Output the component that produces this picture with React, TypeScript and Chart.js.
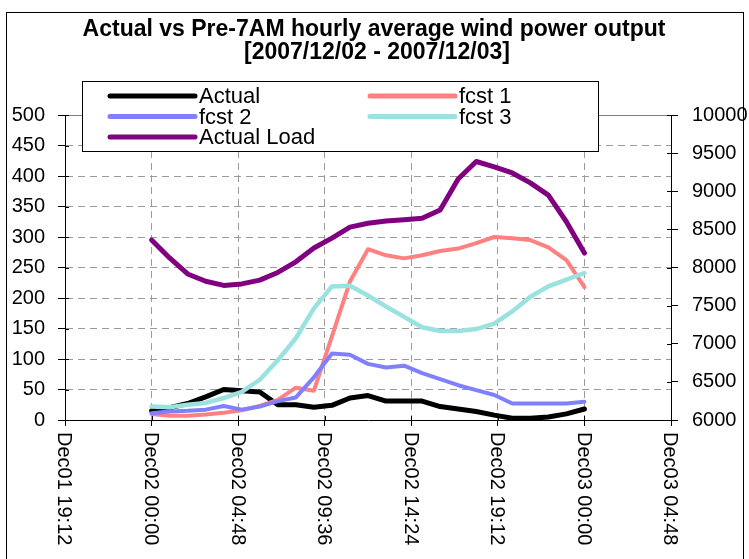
import React, { useEffect, useRef } from "react";
import { Chart, registerables } from "chart.js";

Chart.register(...registerables);

// ---- DATA ----
const hours = [0, 1, 2, 3, 4, 5, 6, 7, 8, 9, 10, 11, 12, 13, 14, 15, 16, 17, 18, 19, 20, 21, 22, 23, 24];
const actual = [15, 20, 27, 38, 50, 48, 46, 25, 25, 21, 24, 36, 40, 31, 31, 31, 22, 18, 14, 8, 3, 3, 5, 10, 18];
const fcst1 = [10, 7, 7, 9, 12, 16, 23, 33, 53, 48, 137, 227, 280, 270, 265, 270, 277, 281, 290, 300, 298, 295, 283, 262, 218];
const fcst2 = [11, 14, 15, 17, 23, 17, 22, 31, 37, 70, 109, 107, 92, 86, 89, 77, 67, 57, 49, 41, 27, 27, 27, 27, 30];
const fcst3 = [22, 21, 25, 28, 36, 46, 66, 98, 134, 183, 219, 220, 204, 186, 169, 152, 146, 146, 149, 158, 178, 202, 219, 230, 241];
const actualLoad = [8360, 8125, 7915, 7820, 7765, 7785, 7835, 7935, 8075, 8255, 8385, 8530, 8580, 8610, 8625, 8645, 8755, 9160, 9390, 9320, 9240, 9110, 8950, 8600, 8190];

const xTickValues = [-4.8, 0, 4.8, 9.6, 14.4, 19.2, 24, 28.8];
const xTickLabels = ["Dec01 19:12", "Dec02 00:00", "Dec02 04:48", "Dec02 09:36", "Dec02 14:24", "Dec02 19:12", "Dec03 00:00", "Dec03 04:48"];

const titleLines = ["Actual vs Pre-7AM hourly average wind power output", "[2007/12/02 - 2007/12/03]"];

const FONT = '"Liberation Sans", Arial, sans-serif';

const toXY = (vals: number[]) => vals.map((v, i) => ({ x: hours[i], y: v }));

export default function App() {
  const ref = useRef<HTMLCanvasElement | null>(null);

  useEffect(() => {
    if (!ref.current) return;

    const decor = {
      id: "decor",
      beforeDatasetsDraw(chart: any) {
        const { ctx, chartArea } = chart;
        const { left, right, top, bottom } = chartArea;
        ctx.save();
        ctx.strokeStyle = "#808080";
        ctx.lineWidth = 1;
        ctx.beginPath();
        ctx.moveTo(left, Math.round(top) + 0.5);
        ctx.lineTo(right, Math.round(top) + 0.5);
        ctx.stroke();
        ctx.strokeStyle = "#000";
        const ys = chart.scales.y;
        const y1 = chart.scales.y1;
        const xs = chart.scales.x;
        ctx.beginPath();
        ys.ticks.forEach((t: any) => {
          const py = Math.round(ys.getPixelForValue(t.value)) + 0.5;
          ctx.moveTo(left, py);
          ctx.lineTo(left + 4, py);
        });
        y1.ticks.forEach((t: any) => {
          const py = Math.round(y1.getPixelForValue(t.value)) + 0.5;
          ctx.moveTo(right - 4, py);
          ctx.lineTo(right, py);
        });
        xs.ticks.forEach((t: any) => {
          const px = Math.round(xs.getPixelForValue(t.value)) + 0.5;
          ctx.moveTo(px, bottom - 4);
          ctx.lineTo(px, bottom);
        });
        ctx.stroke();
        ctx.restore();
      },
      afterDraw(chart: any) {
        const { ctx, chartArea } = chart;
        ctx.save();
        ctx.strokeStyle = "#000";
        ctx.lineWidth = 1;
        ctx.strokeRect(6.5, 12.5, 737, 600);

        // title
        ctx.fillStyle = "#000";
        ctx.font = `bold 23px ${FONT}`;
        ctx.textAlign = "center";
        ctx.textBaseline = "middle";
        ctx.fillText(titleLines[0], 374, 30);
        ctx.fillText(titleLines[1], 377, 53);

        // x tick labels rotated clockwise
        const xs = chart.scales.x;
        ctx.font = `20px ${FONT}`;
        ctx.textAlign = "left";
        ctx.textBaseline = "middle";
        xs.ticks.forEach((t: any, i: number) => {
          const px = xs.getPixelForValue(t.value);
          ctx.save();
          ctx.translate(px - 1, chartArea.bottom + 12);
          ctx.rotate(Math.PI / 2);
          ctx.fillText(xTickLabels[i], 0, 0);
          ctx.restore();
        });

        // legend
        const lx = 82.5, ly = 81.5, lw = 516, lh = 70;
        ctx.fillStyle = "#fff";
        ctx.fillRect(lx, ly, lw, lh);
        ctx.strokeStyle = "#000";
        ctx.lineWidth = 1;
        ctx.strokeRect(lx, ly, lw, lh);
        const cols = [110, 370];
        const rows = [96, 116.5, 137];
        const ds = chart.data.datasets;
        ctx.font = `22px ${FONT}`;
        ctx.textAlign = "left";
        ctx.textBaseline = "middle";
        ds.forEach((d: any, i: number) => {
          const cx = cols[i % 2];
          const cy = rows[Math.floor(i / 2)];
          ctx.strokeStyle = d.borderColor;
          ctx.lineWidth = 5;
          ctx.lineCap = "round";
          ctx.beginPath();
          ctx.moveTo(cx, cy);
          ctx.lineTo(cx + 85, cy);
          ctx.stroke();
          ctx.fillStyle = "#000";
          ctx.fillText(d.label, cx + 89, cy + 1);
        });
        ctx.restore();
      },
    };

    const gridColor = "#9a9a9a";

    const chart = new Chart(ref.current, {
      type: "line",
      data: {
        datasets: [
          { label: "Actual", data: toXY(actual), borderColor: "#000000", borderWidth: 5, yAxisID: "y", order: 4 },
          { label: "fcst 1", data: toXY(fcst1), borderColor: "#FF8080", borderWidth: 4, yAxisID: "y", order: 3 },
          { label: "fcst 2", data: toXY(fcst2), borderColor: "#8080FF", borderWidth: 4, yAxisID: "y", order: 2 },
          { label: "fcst 3", data: toXY(fcst3), borderColor: "#99E2E0", borderWidth: 4.5, yAxisID: "y", order: 1 },
          { label: "Actual Load", data: toXY(actualLoad), borderColor: "#800080", borderWidth: 5, yAxisID: "y1", order: 0 },
        ].map((d) => ({
          ...d,
          pointRadius: 0,
          pointHoverRadius: 0,
          tension: 0,
          fill: false,
          borderJoinStyle: "round" as const,
          borderCapStyle: "round" as const,
          clip: false as any,
        })),
      },
      options: {
        responsive: false,
        animation: false,
        devicePixelRatio: 1,
        layout: { padding: { top: 115, left: 0, right: 0, bottom: 0 } },
        plugins: {
          legend: { display: false },
          title: { display: false },
          tooltip: { enabled: false },
        },
        events: [],
        scales: {
          x: {
            type: "linear",
            min: -4.8,
            max: 28.8,
            afterBuildTicks: (s: any) => {
              s.ticks = xTickValues.map((v) => ({ value: v }));
            },
            afterFit: (s: any) => {
              s.height = 139;
            },
            ticks: { display: false },
            border: { display: true, color: "#000", width: 1, dash: [7, 5] },
            grid: {
              color: (c: any) =>
                c.index === 0 || c.index === xTickValues.length - 1 ? "rgba(0,0,0,0)" : gridColor,
              lineWidth: 1,
              drawTicks: true,
              tickLength: 6,
              tickColor: "#000",
              tickBorderDash: [0, 0],
            } as any,
          },
          y: {
            type: "linear",
            position: "left",
            min: 0,
            max: 500,
            ticks: {
              stepSize: 50,
              color: "#000",
              font: { family: FONT, size: 20 },
              padding: 13,
            },
            afterFit: (s: any) => {
              s.width = 65;
            },
            border: { display: true, color: "#000", width: 1, dash: [7, 5] },
            grid: {
              color: (c: any) => (c.index === 0 || c.index === 10 ? "rgba(0,0,0,0)" : gridColor),
              lineWidth: 1,
              drawTicks: true,
              tickLength: 7,
              tickColor: "#000",
              tickBorderDash: [0, 0],
            } as any,
          },
          y1: {
            type: "linear",
            position: "right",
            min: 6000,
            max: 10000,
            ticks: {
              stepSize: 500,
              color: "#000",
              font: { family: FONT, size: 20 },
              padding: 14,
              callback: (v: any) => String(v),
            },
            afterFit: (s: any) => {
              s.width = 78;
            },
            border: { display: true, color: "#000", width: 1 },
            grid: {
              drawOnChartArea: false,
              drawTicks: true,
              tickLength: 7,
              tickColor: "#000",
              color: "#000",
            } as any,
          },
        },
      },
      plugins: [decor],
    });

    return () => chart.destroy();
  }, []);

  return (
    <div style={{ position: "absolute", left: 0, top: 0, width: 749, height: 559, background: "#fff", overflow: "hidden" }}>
      <canvas ref={ref} width={749} height={559} style={{ width: 749, height: 559, display: "block" }} />
    </div>
  );
}
